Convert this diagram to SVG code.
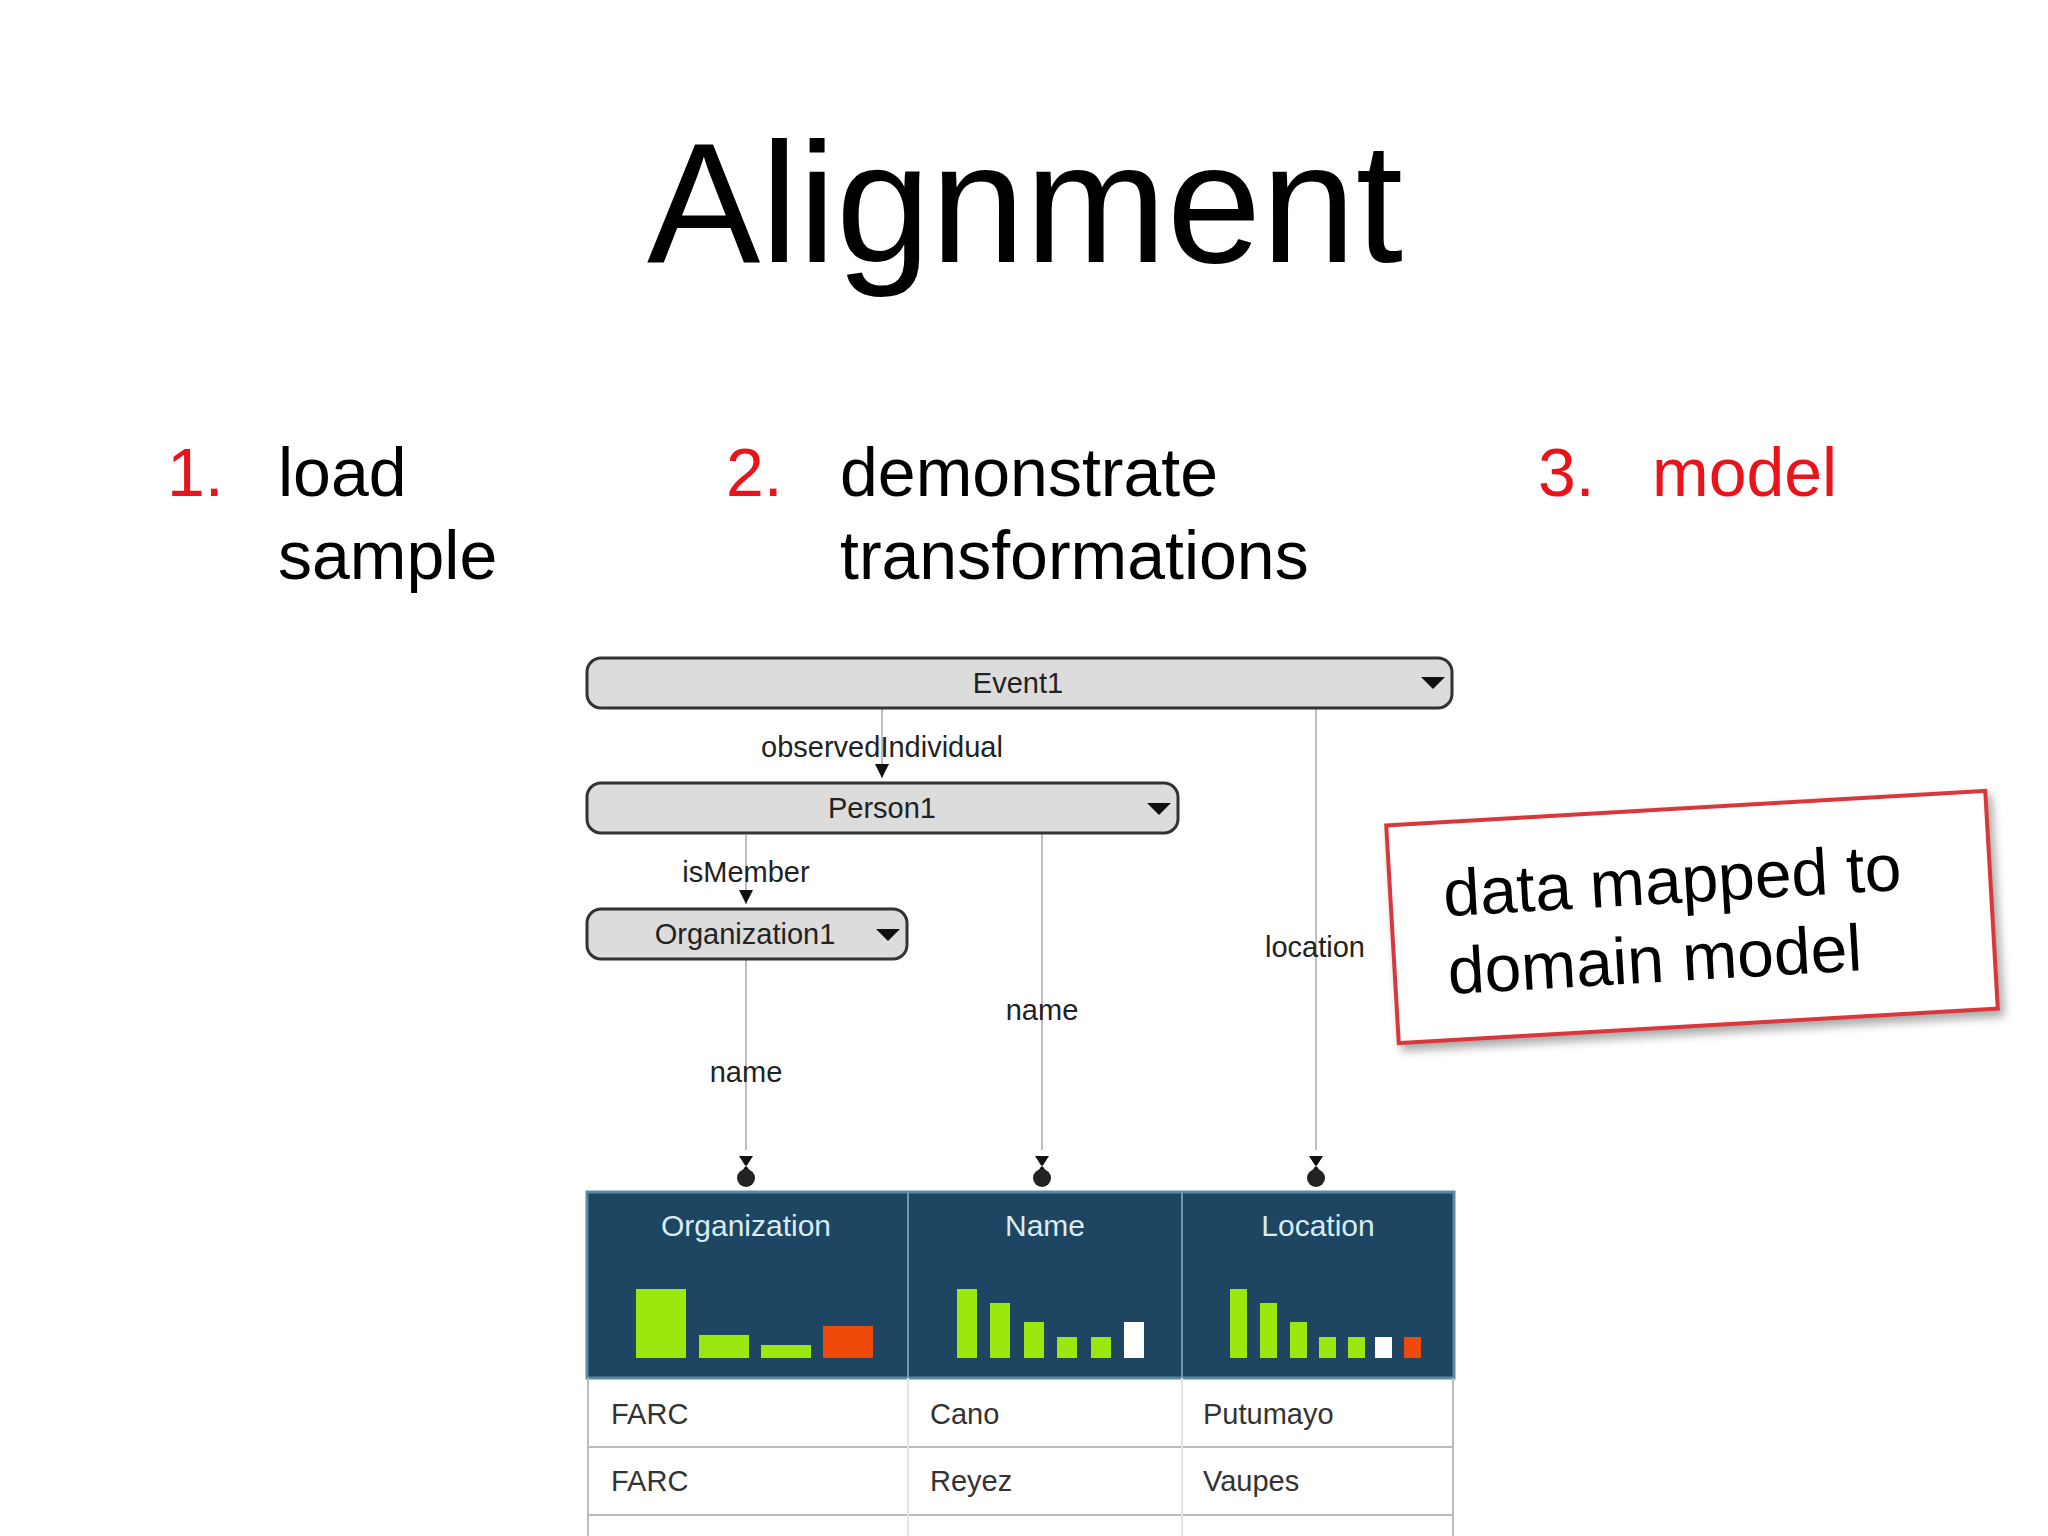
<svg xmlns="http://www.w3.org/2000/svg" width="2048" height="1536" viewBox="0 0 2048 1536">
<style>
.t{font-family:"Liberation Sans",Arial,sans-serif}
.big{font-size:68px}
.red{fill:#e8141a}
.box{fill:#dcdcdc;stroke:#333;stroke-width:3}
.lbl{font-size:29px;fill:#222;text-anchor:middle}
.ln{stroke:#aaa;stroke-width:1.5;fill:none}
.hd{font-size:30px;fill:#d8ecf4;text-anchor:middle}
.cell{font-size:29px;fill:#333}
.g{fill:#9be80e}.r{fill:#f04a0a}.w{fill:#fff}
</style>
<defs>
<marker id="ar" viewBox="0 0 10 10" refX="10" refY="5" markerWidth="14" markerHeight="14" markerUnits="userSpaceOnUse" orient="auto"><path d="M0,0 L10,5 L0,10z" fill="#111"/></marker>
<g id="ep"><path d="M-7,-24 L7,-24 L0,-13z M-7,-4 L7,-4 L0,-15z" fill="#111"/><circle cx="0" cy="-2" r="9" fill="#222"/></g>
</defs>
<rect width="2048" height="1536" fill="#fff"/>
<text class="t" x="1025" y="262" font-size="170" text-anchor="middle">Alignment</text>
<g class="t big">
<text class="red" x="167" y="496">1.</text><text x="278" y="496">load</text><text x="278" y="579">sample</text>
<text class="red" x="726" y="496">2.</text><text x="840" y="496">demonstrate</text><text x="840" y="579">transformations</text>
<text class="red" x="1538" y="496">3.</text><text class="red" x="1652" y="496">model</text>
</g>
<g id="connectors">
<line class="ln" x1="882" y1="660" x2="882" y2="778" marker-end="url(#ar)" stroke="#444"/>
<line class="ln" x1="746" y1="835" x2="746" y2="904" marker-end="url(#ar)" stroke="#444"/>
<line class="ln" x1="746" y1="959" x2="746" y2="1150"/>
<line class="ln" x1="1042" y1="833" x2="1042" y2="1150"/>
<line class="ln" x1="1316" y1="708" x2="1316" y2="1150"/>
<use href="#ep" x="746" y="1180"/><use href="#ep" x="1042" y="1180"/><use href="#ep" x="1316" y="1180"/>
<text class="t lbl" x="882" y="757">observedIndividual</text>
<text class="t lbl" x="746" y="882">isMember</text>
<text class="t lbl" x="1315" y="957">location</text>
<text class="t lbl" x="1042" y="1020">name</text>
<text class="t lbl" x="746" y="1082">name</text>
</g>
<g id="event1"><rect class="box" x="587" y="658" width="865" height="50" rx="14"/><text class="t lbl" x="1018" y="693">Event1</text><path d="M1421,677 h24 l-12,12z" fill="#111"/></g>
<g id="person1"><rect class="box" x="587" y="783" width="591" height="50" rx="14"/><text class="t lbl" x="882" y="818">Person1</text><path d="M1147,803 h24 l-12,12z" fill="#111"/></g>
<g id="organization1"><rect class="box" x="587" y="909" width="320" height="50" rx="14"/><text class="t lbl" x="745" y="944">Organization1</text><path d="M876,929 h24 l-12,12z" fill="#111"/></g>
<g id="table">
<rect x="587" y="1192" width="867" height="186" fill="#1e4561" stroke="#5a8aa8" stroke-width="3"/>
<line x1="908" y1="1192" x2="908" y2="1378" stroke="#6a9ab8" stroke-width="2"/>
<line x1="1182" y1="1192" x2="1182" y2="1378" stroke="#6a9ab8" stroke-width="2"/>
<text class="t hd" x="746" y="1236">Organization</text><text class="t hd" x="1045" y="1236">Name</text><text class="t hd" x="1318" y="1236">Location</text>
<rect class="g" x="636" y="1289" width="50" height="69"/><rect class="g" x="699" y="1335" width="50" height="23"/><rect class="g" x="761" y="1345" width="50" height="13"/><rect class="r" x="823" y="1326" width="50" height="32"/>
<rect class="g" x="957" y="1289" width="20" height="69"/><rect class="g" x="990" y="1303" width="20" height="55"/><rect class="g" x="1024" y="1322" width="20" height="36"/><rect class="g" x="1057" y="1337" width="20" height="21"/><rect class="g" x="1091" y="1337" width="20" height="21"/><rect class="w" x="1124" y="1322" width="20" height="36"/>
<rect class="g" x="1230" y="1289" width="17" height="69"/><rect class="g" x="1260" y="1303" width="17" height="55"/><rect class="g" x="1290" y="1322" width="17" height="36"/><rect class="g" x="1319" y="1337" width="17" height="21"/><rect class="g" x="1348" y="1337" width="17" height="21"/><rect class="w" x="1375" y="1337" width="17" height="21"/><rect class="r" x="1404" y="1337" width="17" height="21"/>
<path d="M588,1378 V1536 M1453,1378 V1536 M588,1447 H1453 M588,1515 H1453" stroke="#bbb" stroke-width="2" fill="none"/>
<path d="M908,1378 V1536 M1182,1378 V1536" stroke="#e4e4e4" stroke-width="2"/>
<text class="t cell" x="611" y="1424">FARC</text><text class="t cell" x="930" y="1424">Cano</text><text class="t cell" x="1203" y="1424">Putumayo</text>
<text class="t cell" x="611" y="1491">FARC</text><text class="t cell" x="930" y="1491">Reyez</text><text class="t cell" x="1203" y="1491">Vaupes</text>
</g>
<g id="note" transform="rotate(-3.3 1692 917)">
<rect x="1392" y="808" width="600" height="218" fill="#fff" stroke="#d9373a" stroke-width="4" style="filter:drop-shadow(4px 6px 5px rgba(0,0,0,0.35))"/>
<text class="t" x="1445" y="902" font-size="66">data mapped to</text>
<text class="t" x="1445" y="980" font-size="66">domain model</text>
</g>
</svg>
